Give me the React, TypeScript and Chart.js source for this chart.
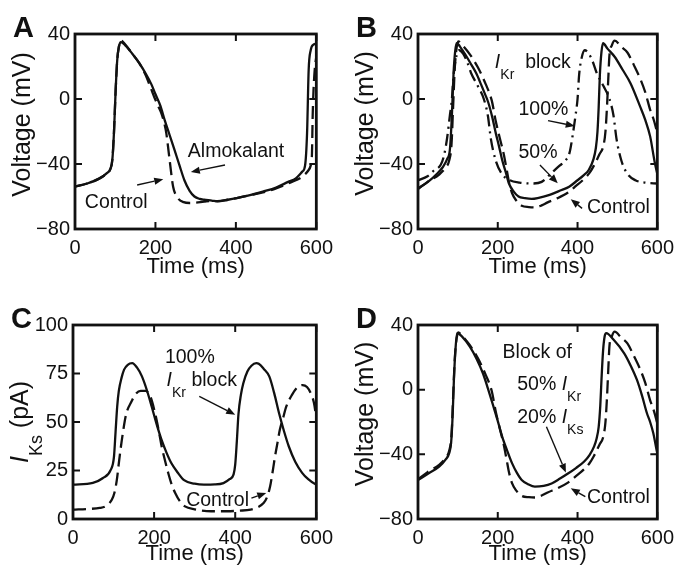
import React, { useEffect, useRef } from "react";
import { Chart, registerables } from "chart.js";

Chart.register(...registerables);

const FONT = '"Liberation Sans", Arial, Helvetica, sans-serif';
const INK = "#111111";

// ---------------- Panel A: almokalant vs control ----------------
const aTime = [0, 30, 60, 80, 88, 93, 97, 101, 105, 109, 114, 125, 142, 160, 175, 190, 199, 212, 223, 235, 247, 260, 272, 285, 297, 310, 321, 340, 354, 380, 402, 430, 467, 500, 530, 549, 565, 572, 577, 581, 586, 593, 600];
const aAlmokalant = [-54, -52, -49, -45.5, -43, -37, -20, 5, 24, 32, 35, 33, 28, 22, 16, 9, 3.5, -4, -13, -22, -31, -41, -50, -56.5, -60, -61.5, -62, -62.5, -63, -62, -61, -59.5, -57, -54.5, -51, -48.8, -44.7, -41, -21, 18, 30, 33.5, 34];
const aCtrlTime = [0, 30, 60, 80, 88, 93, 97, 101, 105, 109, 114, 125, 142, 160, 175, 188, 199, 207, 215, 221, 227, 235, 244, 256, 270, 285, 300, 321, 340, 354, 380, 402, 430, 467, 500, 530, 549, 565, 580, 586, 589, 591, 593, 596, 600];
const aControl = [-54, -52, -49, -45.5, -43, -37, -20, 5, 24, 32, 36, 33.5, 28, 22, 15, 7, 0, -4.5, -9, -14, -21, -37, -54, -61, -63.5, -64, -63.8, -63.2, -62.8, -62.8, -62, -61, -59.5, -57.5, -55, -52, -50, -47.8, -44, -41, -35, -10, 5, 18, 26];

// ---------------- Panel B: IKr block ----------------
const bTime50 = [0, 25, 49, 62, 73, 80, 85, 89, 93, 97, 110, 122, 134, 146, 158, 168, 176, 186, 195, 203, 211, 220, 228, 240, 252, 268, 285, 300, 330, 360, 379, 400, 415, 428, 440, 446, 450, 453, 456, 460, 464, 475, 493, 513, 533, 557, 570, 582, 594, 600];
const bBlock50 = [-55, -51, -45.7, -42, -37, -31, -10, 15, 29, 34.3, 30.5, 26, 21, 15.8, 9, 3, -2, -11, -21, -29, -37.5, -45, -52, -57, -60, -61, -61.5, -61, -59, -56, -54, -50, -47, -43.7, -37, -30, -20, -5, 15, 29, 34.3, 31, 26, 18, 9.6, -4.7, -13, -23, -39.6, -46];
const bTime100 = [0, 24, 40, 57, 65, 73, 80, 85, 89, 95, 103, 113, 123, 133, 150, 165, 175, 183, 195, 210, 230, 255, 290, 310, 335, 355, 371, 380, 388, 395, 400, 404, 410, 418, 428, 438, 448, 465, 480, 490, 498, 510, 525, 545, 570, 600];
const bBlock100 = [-50, -47.5, -44, -40.5, -35, -24, -10, 0, 14, 25, 30, 28, 23, 16, 8, 0, -10, -25, -38, -46, -50, -51.5, -52, -51, -45.5, -41, -37.5, -33, -22, -10, 0, 15, 25, 30, 28, 23, 16, 8, 0, -10, -25, -38, -46, -50, -51.5, -52];

// control action potential (panels B and D)
const ctrlTime = [0, 24, 53, 70, 78, 84, 88, 92, 96, 101, 110, 130, 150, 170, 185, 195, 205, 215, 222, 228, 236, 245, 260, 278, 293, 310, 325, 350, 376, 396, 416, 430, 441, 455, 465, 470, 474, 477, 480, 486, 493, 510, 525, 541, 558, 570, 582, 590, 598, 600];
const ctrlVoltage = [-55.5, -51, -46.5, -42, -38, -28, -5, 18, 30, 35.5, 33.5, 27.5, 19.5, 9, -1, -13.7, -24, -34, -43, -51, -58, -62, -65.7, -66.5, -66.7, -65.5, -63.6, -61, -57.5, -53.5, -49.3, -45.5, -41, -34, -28.6, -20, -4, 12, 27, 33, 35.9, 32, 28.6, 21, 12, 4, -6.6, -12, -19, -21];

// ---------------- Panel C: IKs current ----------------
const cTime100 = [0, 49, 73, 93, 101, 105, 109, 113, 120, 126, 135, 146, 158, 170, 182, 194, 206, 218, 230, 242, 258, 274, 300, 323, 350, 371, 386, 396, 400, 404, 408, 414, 420, 430, 440, 452, 458, 470, 484, 496, 508, 520, 532, 548, 565, 580, 597, 600];
const cIks100 = [17.7, 18.6, 21, 25.3, 32, 45, 58, 66, 73, 77, 79.5, 80.3, 78, 73.5, 66.5, 58, 49, 41, 34.5, 29, 24, 20, 18.2, 17.7, 17.8, 18.5, 20.5, 23, 28, 40, 54, 64, 70, 76, 79, 80.3, 80, 77.5, 73.5, 65, 54.6, 45.5, 37.5, 29.5, 23.8, 20.5, 18, 17.8];
const cTimeCtrl = [0, 40, 66, 80, 90, 96, 102, 108, 114, 122, 131, 143, 155, 167, 179, 191, 203, 211, 219, 227, 235, 243, 252, 264, 276, 300, 341, 380, 410, 438, 455, 470, 478, 486, 492, 498, 504, 510, 518, 526, 540, 554, 566, 577, 587, 594, 600];
const cIksCtrl = [4.8, 5.2, 5.7, 6.5, 8.2, 10, 13.4, 20, 30.5, 43, 54, 60, 64.5, 66, 66, 63, 54, 46, 37, 30, 23.6, 18, 13.4, 9, 6.5, 5, 4, 4, 4.3, 4.8, 6, 8.2, 11, 16.7, 24, 32, 39, 46, 52, 58, 64, 68, 69, 68, 64.5, 60, 52];

// ---------------- Panel D: combined block ----------------
const dTime = [0, 25, 53, 70, 78, 83, 87, 90, 94, 98, 110, 130, 147, 163, 175, 187, 199, 211, 224, 236, 248, 260, 276, 293, 315, 335, 356, 376, 396, 416, 430, 441, 448, 453, 457, 460, 464, 468, 472, 490, 517, 533, 549, 562, 574, 582, 590, 598, 600];
const dBlock = [-55.9, -52, -47.6, -43, -39.4, -33, -15, 6, 25, 35, 33, 26.6, 19, 10, 1, -8.6, -18.5, -29, -38, -45.6, -51.5, -55.9, -58.5, -60, -59.5, -58, -55, -51.9, -48.5, -44.6, -40.5, -35.4, -30, -23, -10, 6, 24, 33, 35, 31, 22.5, 15, 6, -4, -14.6, -20, -27, -37, -39];

// ---------------- ticks ----------------
const TIME_TICKS = [0, 200, 400, 600];
const VOLT_TICKS = [-80, -40, 0, 40];
const IKS_TICKS = [0, 25, 50, 75, 100];

// ---------------- types ----------------
type Part = { s: string; it?: boolean; sub?: boolean };
type Note = { t: number; v: number; parts: Part[] };
type Arrow = [number, number, number, number];
type Series = { time: number[]; values: number[]; dash: number[] };
type Panel = {
  letter: string;
  box: { x: number; y: number; w: number; h: number };
  area: { l: number; r: number; t: number; b: number };
  yMin: number;
  yMax: number;
  yTicks: number[];
  yTitle: Part[];
  yTitleShift: number;
  xTitleGap: number;
  series: Series[];
  notes: Note[];
  arrows: Arrow[];
};

const SOLID: number[] = [];
const DASH = [13, 6];
const DASHDOT = [12, 5, 2, 5];

const VOLT_TITLE: Part[] = [{ s: "Voltage (mV)" }];
const IKS_TITLE: Part[] = [{ s: "I", it: true }, { s: "Ks", sub: true }, { s: " (pA)" }];

const PANELS: Panel[] = [
  {
    letter: "A",
    box: { x: 0, y: 0, w: 340, h: 285 },
    area: { l: 75, r: 321, t: 34, b: 229 },
    yMin: -80, yMax: 40, yTicks: VOLT_TICKS,
    yTitle: VOLT_TITLE, yTitleShift: -7, xTitleGap: 44,
    series: [
      { time: aTime, values: aAlmokalant, dash: SOLID },
      { time: aCtrlTime, values: aControl, dash: DASH },
    ],
    notes: [
      { t: 280.5, v: -35.7, parts: [{ s: "Almokalant" }] },
      { t: 24.4, v: -67.1, parts: [{ s: "Control" }] },
    ],
    arrows: [
      [373, -40.6, 288, -44.9],
      [154.5, -52.9, 219.5, -49.4],
    ],
  },
  {
    letter: "B",
    box: { x: 340, y: 0, w: 341, h: 285 },
    area: { l: 78, r: 324, t: 34, b: 229 },
    yMin: -80, yMax: 40, yTicks: VOLT_TICKS,
    yTitle: VOLT_TITLE, yTitleShift: -8, xTitleGap: 44,
    series: [
      { time: bTime50, values: bBlock50, dash: SOLID },
      { time: ctrlTime, values: ctrlVoltage, dash: DASH },
      { time: bTime100, values: bBlock100, dash: DASHDOT },
    ],
    notes: [
      { t: 192.7, v: 19.1, parts: [{ s: "I", it: true }, { s: "Kr", sub: true }, { s: "  block" }] },
      { t: 252, v: -9.8, parts: [{ s: "100%" }] },
      { t: 252, v: -36.3, parts: [{ s: "50%" }] },
      { t: 423.6, v: -70.2, parts: [{ s: "Control" }] },
    ],
    arrows: [
      [326, -13.3, 393, -16.6],
      [305.7, -40.6, 350.4, -51.9],
      [411.4, -67.3, 383, -61.7],
    ],
  },
  {
    letter: "C",
    box: { x: 0, y: 285, w: 340, h: 285 },
    area: { l: 73, r: 321, t: 40, b: 234 },
    yMin: 0, yMax: 100, yTicks: IKS_TICKS,
    yTitle: IKS_TITLE, yTitleShift: 0, xTitleGap: 41,
    series: [
      { time: cTime100, values: cIks100, dash: SOLID },
      { time: cTimeCtrl, values: cIksCtrl, dash: DASH },
    ],
    notes: [
      { t: 226.7, v: 80.4, parts: [{ s: "100%" }] },
      { t: 230.6, v: 68.4, parts: [{ s: "I", it: true }, { s: "Kr", sub: true }, { s: " block" }] },
      { t: 279, v: 6.5, parts: [{ s: "Control" }] },
    ],
    arrows: [
      [311.4, 63.2, 400, 53.8],
      [440, 10.8, 476.6, 13.4],
    ],
  },
  {
    letter: "D",
    box: { x: 340, y: 285, w: 341, h: 285 },
    area: { l: 78, r: 324, t: 40, b: 234 },
    yMin: -80, yMax: 40, yTicks: VOLT_TICKS,
    yTitle: VOLT_TITLE, yTitleShift: -8, xTitleGap: 41,
    series: [
      { time: dTime, values: dBlock, dash: SOLID },
      { time: ctrlTime, values: ctrlVoltage, dash: DASH },
    ],
    notes: [
      { t: 212, v: 19.4, parts: [{ s: "Block of" }] },
      { t: 248.8, v: -0.2, parts: [{ s: "50% " }, { s: "I", it: true }, { s: "Kr", sub: true }] },
      { t: 248.8, v: -20.8, parts: [{ s: "20% " }, { s: "I", it: true }, { s: "Ks", sub: true }] },
      { t: 423.6, v: -70.3, parts: [{ s: "Control" }] },
    ],
    arrows: [
      [322, -22.9, 370.7, -51.3],
      [419.5, -66.2, 383, -61],
    ],
  },
];

const NOTE_SIZE = 19.5;
const TICK_SIZE = 20;
const XTITLE_SIZE = 22;
const YTITLE_SIZE = 25;

function partFont(p: Part, size: number) {
  const fs = p.sub ? size * 0.72 : size;
  return `${p.it ? "italic " : ""}${fs}px ${FONT}`;
}

function measureParts(ctx: CanvasRenderingContext2D, parts: Part[], size: number) {
  let w = 0;
  for (const p of parts) {
    ctx.font = partFont(p, size);
    w += ctx.measureText(p.s).width;
  }
  return w;
}

function drawParts(ctx: CanvasRenderingContext2D, x: number, y: number, parts: Part[], size: number) {
  let cx = x;
  for (const p of parts) {
    ctx.font = partFont(p, size);
    const dy = p.sub ? size * 0.55 : 0;
    ctx.fillText(p.s, cx, y + dy);
    cx += ctx.measureText(p.s).width;
  }
}

function drawArrow(ctx: CanvasRenderingContext2D, x1: number, y1: number, x2: number, y2: number) {
  const ang = Math.atan2(y2 - y1, x2 - x1);
  const len = 9;
  const half = 3.6;
  const bx = x2 - len * Math.cos(ang);
  const by = y2 - len * Math.sin(ang);
  ctx.beginPath();
  ctx.moveTo(x1, y1);
  ctx.lineTo(bx, by);
  ctx.lineWidth = 1.4;
  ctx.stroke();
  ctx.beginPath();
  ctx.moveTo(x2, y2);
  ctx.lineTo(bx + half * Math.sin(ang), by - half * Math.cos(ang));
  ctx.lineTo(bx - half * Math.sin(ang), by + half * Math.cos(ang));
  ctx.closePath();
  ctx.fill();
}

function makeDeco(p: Panel) {
  return {
    id: "deco" + p.letter,
    afterDraw(chart: any) {
      const ctx: CanvasRenderingContext2D = chart.ctx;
      const a = chart.chartArea;
      const xs = chart.scales.x;
      const ys = chart.scales.y;
      ctx.save();
      ctx.setLineDash([]);
      ctx.strokeStyle = INK;
      ctx.fillStyle = INK;

      // inward ticks on all four sides
      ctx.lineWidth = 2;
      ctx.beginPath();
      for (const v of TIME_TICKS) {
        const px = xs.getPixelForValue(v);
        ctx.moveTo(px, a.bottom);
        ctx.lineTo(px, a.bottom - 7);
        ctx.moveTo(px, a.top);
        ctx.lineTo(px, a.top + 7);
      }
      for (const v of p.yTicks) {
        const py = ys.getPixelForValue(v);
        ctx.moveTo(a.left, py);
        ctx.lineTo(a.left + 7, py);
        ctx.moveTo(a.right, py);
        ctx.lineTo(a.right - 7, py);
      }
      ctx.stroke();

      // frame
      ctx.lineWidth = 2.8;
      ctx.strokeRect(a.left, a.top, a.right - a.left, a.bottom - a.top);

      // annotations
      ctx.textAlign = "left";
      ctx.textBaseline = "alphabetic";
      for (const n of p.notes) {
        drawParts(ctx, xs.getPixelForValue(n.t), ys.getPixelForValue(n.v), n.parts, NOTE_SIZE);
      }
      for (const [t1, v1, t2, v2] of p.arrows) {
        drawArrow(ctx, xs.getPixelForValue(t1), ys.getPixelForValue(v1), xs.getPixelForValue(t2), ys.getPixelForValue(v2));
      }

      // x axis title
      ctx.font = `${XTITLE_SIZE}px ${FONT}`;
      ctx.textAlign = "center";
      ctx.fillText("Time (ms)", (a.left + a.right) / 2, a.bottom + p.xTitleGap);

      // y axis title (rotated)
      ctx.textAlign = "left";
      const w = measureParts(ctx, p.yTitle, YTITLE_SIZE);
      ctx.save();
      ctx.translate(a.left - 45, (a.top + a.bottom) / 2 + p.yTitleShift);
      ctx.rotate(-Math.PI / 2);
      drawParts(ctx, -w / 2, 0, p.yTitle, YTITLE_SIZE);
      ctx.restore();

      // panel letter
      ctx.font = `bold 29px ${FONT}`;
      ctx.textAlign = "left";
      ctx.fillText(p.letter, a.left - 62, a.top + 3);
      ctx.restore();
    },
  };
}

function makeConfig(p: Panel): any {
  const { area, box } = p;
  return {
    type: "line",
    data: {
      datasets: p.series.map((s) => ({
        data: s.time.map((t, i) => ({ x: t, y: s.values[i] })),
        borderColor: INK,
        borderWidth: 2.3,
        borderDash: s.dash,
        borderCapStyle: "butt",
        pointRadius: 0,
        fill: false,
        cubicInterpolationMode: "monotone",
      })),
    },
    options: {
      animation: false,
      responsive: false,
      devicePixelRatio: 1,
      events: [],
      layout: { padding: { left: 0, top: area.t, right: box.w - area.r, bottom: 0 } },
      plugins: { legend: { display: false }, tooltip: { enabled: false } },
      scales: {
        x: {
          type: "linear",
          min: 0,
          max: 600,
          afterFit: (s: any) => {
            s.height = box.h - area.b;
          },
          afterBuildTicks: (s: any) => {
            s.ticks = TIME_TICKS.map((v) => ({ value: v }));
          },
          grid: { display: false, drawTicks: false },
          border: { display: false },
          ticks: {
            font: { family: FONT, size: TICK_SIZE },
            color: INK,
            padding: 7,
            maxRotation: 0,
            autoSkip: false,
          },
        },
        y: {
          type: "linear",
          min: p.yMin,
          max: p.yMax,
          afterFit: (s: any) => {
            s.width = area.l;
          },
          afterBuildTicks: (s: any) => {
            s.ticks = p.yTicks.map((v) => ({ value: v }));
          },
          grid: { display: false, drawTicks: false },
          border: { display: false },
          ticks: {
            font: { family: FONT, size: TICK_SIZE },
            color: INK,
            padding: 5,
            autoSkip: false,
            callback: (v: any) => String(v).replace("-", "\u2212"),
          },
        },
      },
    },
    plugins: [makeDeco(p)],
  };
}

function PanelChart({ p }: { p: Panel }) {
  const ref = useRef<HTMLCanvasElement>(null);
  useEffect(() => {
    const chart = new Chart(ref.current as HTMLCanvasElement, makeConfig(p));
    return () => chart.destroy();
  }, [p]);
  return (
    <canvas
      ref={ref}
      width={p.box.w}
      height={p.box.h}
      style={{ position: "absolute", left: p.box.x, top: p.box.y, width: p.box.w, height: p.box.h }}
    />
  );
}

export default function App() {
  return (
    <div style={{ position: "absolute", left: 0, top: 0, width: 681, height: 570, background: "#fff", overflow: "hidden" }}>
      {PANELS.map((p) => (
        <PanelChart key={p.letter} p={p} />
      ))}
    </div>
  );
}
